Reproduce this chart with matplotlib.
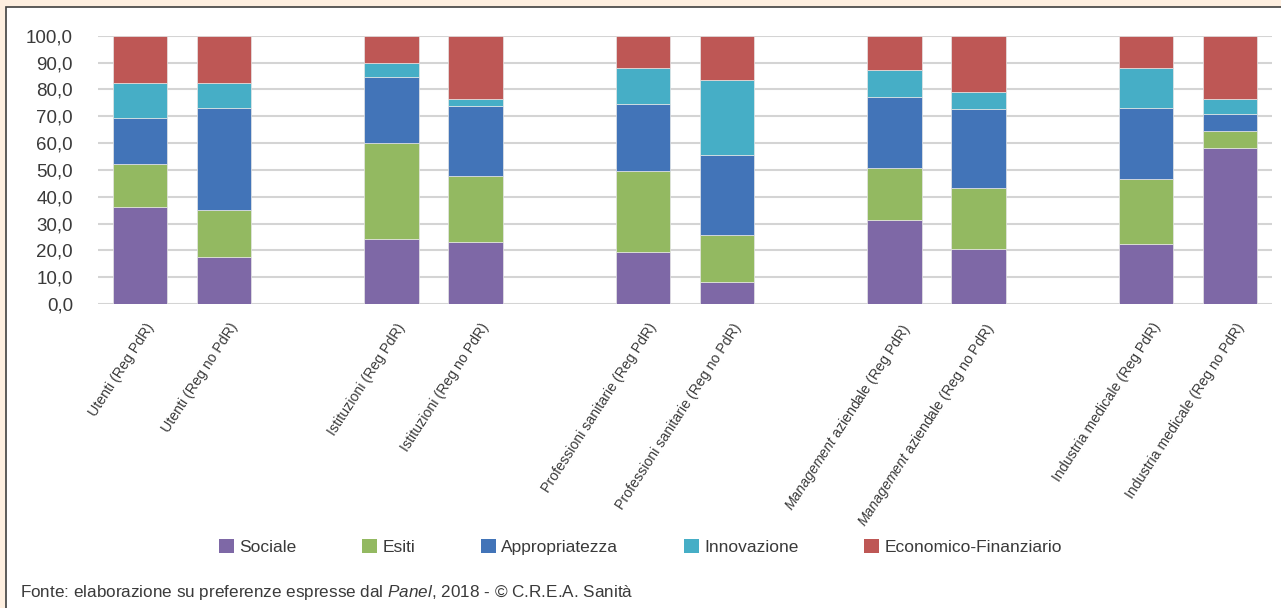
import matplotlib.pyplot as plt
from matplotlib.patches import Rectangle, Patch
from matplotlib.transforms import ScaledTranslation
import numpy as np

plt.rcParams['font.family'] = ['Liberation Sans', 'DejaVu Sans']
plt.rcParams['mathtext.fontset'] = 'custom'
plt.rcParams['mathtext.rm'] = 'Liberation Sans'
plt.rcParams['mathtext.it'] = 'Liberation Sans:italic'

# stakeholder groups, two bars each (regions with / without PdR)
categories = [
    "Utenti (Reg PdR)", "Utenti (Reg no PdR)", "",
    "Istituzioni (Reg PdR)", "Istituzioni (Reg no PdR)", "",
    "Professioni sanitarie (Reg PdR)", "Professioni sanitarie (Reg no PdR)", "",
    "$\\it{Management}$ aziendale (Reg PdR)", "$\\it{Management}$ aziendale (Reg no PdR)", "",
    "Industria medicale (Reg PdR)", "Industria medicale (Reg no PdR)",
]
series_names = ["Sociale", "Esiti", "Appropriatezza", "Innovazione", "Economico-Finanziario"]

sociale = [36.3, 17.5, None, 24.3, 23.2, None, 19.5, 8.1, None, 31.4, 20.6, None, 22.5, 58.3]
esiti = [15.8, 17.7, None, 35.8, 24.5, None, 30.1, 17.6, None, 19.4, 22.6, None, 24.0, 6.3]
appropriatezza = [17.3, 38.0, None, 24.5, 26.2, None, 25.1, 29.9, None, 26.2, 29.6, None, 26.7, 6.3]
innovazione = [12.8, 9.0, None, 5.1, 2.6, None, 13.1, 27.8, None, 10.1, 6.2, None, 14.6, 5.5]
economico = [17.8, 17.8, None, 10.3, 23.5, None, 12.2, 16.6, None, 12.9, 21.0, None, 12.2, 23.6]

yticks = [0, 10, 20, 30, 40, 50, 60, 70, 80, 90, 100]
colors = ["#7E68A6", "#93B961", "#4274B8", "#46AEC6", "#BE5755"]
text_col = "#3A3A3A"

fig = plt.figure(figsize=(12.81, 6.08), dpi=100)
fig.patch.set_facecolor("#FEEFE0")

# white panel with dark frame
panel = Rectangle((6 / 1281, -0.05), 1.1, 1 - 7 / 608 + 0.05, transform=fig.transFigure,
                  facecolor="white", edgecolor="#404040", linewidth=1.2, zorder=-10)
fig.patches.append(panel)

ax = fig.add_axes([98 / 1281, 0.5, (1272 - 98) / 1281, (304 - 35.7) / 608])
ax.set_facecolor("none")

x = np.arange(len(categories))
bottom = np.zeros(len(categories))
for name, vals, col in zip(series_names,
                           [sociale, esiti, appropriatezza, innovazione, economico], colors):
    v = np.array([0 if a is None else a for a in vals], dtype=float)
    ax.bar(x, v, width=0.65, bottom=bottom, color=col, edgecolor="#E6E6E6",
           linewidth=0.5, zorder=3, label=name)
    bottom += v

ax.set_xlim(-0.5, len(categories) - 0.5)
ax.set_ylim(0, 100)
ax.set_yticks(yticks)
ax.set_yticklabels([f"{t:.1f}".replace(".", ",") for t in yticks], fontsize=13.5, color=text_col)
ax.yaxis.grid(True, color="#D4D4D4", linewidth=1.5, zorder=0)
ax.set_axisbelow(True)
for s in ax.spines.values():
    s.set_visible(False)
ax.tick_params(axis="y", length=0, pad=18)
ax.tick_params(axis="x", length=0, pad=12)

ax.set_xticks(x)
ax.set_xticklabels(categories, rotation=57, ha="right", va="top",
                   rotation_mode="anchor", fontsize=10.2, color=text_col)
shift = ScaledTranslation(5 / 100, 0, fig.dpi_scale_trans)
for lab in ax.get_xticklabels():
    lab.set_transform(lab.get_transform() + shift)

handles = [Patch(facecolor=c, edgecolor="none") for c in colors]
fig.legend(handles, series_names, loc="center", bbox_to_anchor=(0.5, 1 - 547 / 608),
           ncol=5, frameon=False, fontsize=12.5, handlelength=0.85, handleheight=0.85,
           handletextpad=0.3, columnspacing=3.8, labelcolor=text_col)

fig.text(20 / 1281, 1 - 593 / 608,
         "Fonte: elaborazione su preferenze espresse dal $\\it{Panel}$, 2018 - © C.R.E.A. Sanità",
         fontsize=12.3, color=text_col, va="center", ha="left")

fig.savefig("out.png", dpi=100, facecolor=fig.get_facecolor())
